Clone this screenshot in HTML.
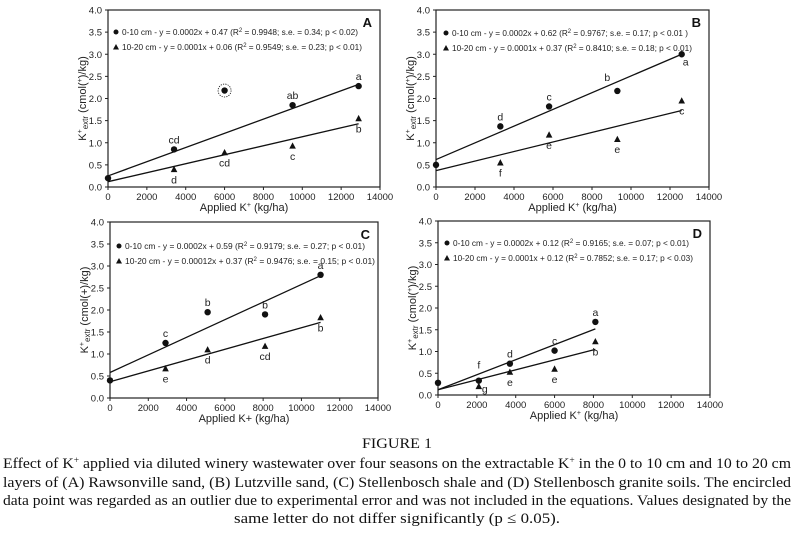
<!DOCTYPE html>
<html><head><meta charset="utf-8">
<style>
html,body{margin:0;padding:0;background:#fff;}
svg{display:block;}
.tk{font-family:"Liberation Sans",Arial,sans-serif;font-size:9.5px;fill:#222;}
.ax{font-family:"Liberation Sans",Arial,sans-serif;font-size:11px;fill:#222;}
.lg{font-family:"Liberation Sans",Arial,sans-serif;font-size:8.3px;fill:#222;}
.lt{font-family:"Liberation Sans",Arial,sans-serif;font-size:10.5px;fill:#222;}
.pl{font-family:"Liberation Sans",Arial,sans-serif;font-size:13px;font-weight:bold;fill:#111;}
.cap{font-family:"Liberation Serif","Times New Roman",serif;font-size:15px;fill:#111;}
</style></head>
<body>
<svg id="fig" width="794" height="536" viewBox="0 0 794 536" xmlns="http://www.w3.org/2000/svg">
<g id="charts"></g>
<text class="cap" x="397" y="448" text-anchor="middle" textLength="70" lengthAdjust="spacingAndGlyphs">FIGURE 1</text>
<text class="cap" x="3" y="468" textLength="788" lengthAdjust="spacingAndGlyphs">Effect of K<tspan dy="-5" font-size="9">+</tspan><tspan dy="5"> applied via diluted winery wastewater over four seasons on the extractable K</tspan><tspan dy="-5" font-size="9">+</tspan><tspan dy="5"> in the 0 to 10 cm and 10 to 20 cm</tspan></text>
<text class="cap" x="3" y="487" textLength="788" lengthAdjust="spacingAndGlyphs">layers of (A) Rawsonville sand, (B) Lutzville sand, (C) Stellenbosch shale and (D) Stellenbosch granite soils. The encircled</text>
<text class="cap" x="3" y="505" textLength="788" lengthAdjust="spacingAndGlyphs">data point was regarded as an outlier due to experimental error and was not included in the equations. Values designated by the</text>
<text class="cap" x="397" y="523" text-anchor="middle" textLength="326" lengthAdjust="spacingAndGlyphs">same letter do not differ significantly (p ≤ 0.05).</text>
</svg>
<script>
// ---- data ----
const xTicks = [0,2000,4000,6000,8000,10000,12000,14000];
const yTicks = ["0.0","0.5","1.0","1.5","2.0","2.5","3.0","3.5","4.0"];
// Panel A
const aX1 = [0,3400,9500,12900];   const aY1 = [0.2,0.85,1.85,2.28];  const aL1 = ["","cd","ab","a"];
const aX2 = [3400,6000,9500,12900];const aY2 = [0.4,0.78,0.93,1.55]; const aL2 = ["d","cd","c","b"];
const aLine1 = [0.25,2.32]; const aLine2 = [0.12,1.43]; const aLineX = [0,12900];
const aOutlierX = [6000]; const aOutlierY = [2.18];
// Panel B
const bX1 = [0,3300,5800,9300,12600]; const bY1 = [0.5,1.37,1.82,2.17,3.0]; const bL1 = ["","d","c","b","a"];
const bX2 = [3300,5800,9300,12600];   const bY2 = [0.55,1.18,1.08,1.95];    const bL2 = ["f","e","e","c"];
const bLine1 = [0.62,3.0]; const bLine2 = [0.37,1.73]; const bLineX = [0,12600];
// Panel C
const cX1 = [0,2900,5100,8100,11000]; const cY1 = [0.4,1.25,1.95,1.9,2.8]; const cL1 = ["","c","b","b","a"];
const cX2 = [2900,5100,8100,11000];   const cY2 = [0.67,1.1,1.18,1.83];   const cL2 = ["e","d","cd","b"];
const cLine1 = [0.58,2.78]; const cLine2 = [0.37,1.72]; const cLineX = [0,11000];
// Panel D
const dX1 = [0,2100,3700,6000,8100]; const dY1 = [0.28,0.33,0.72,1.02,1.68]; const dL1 = ["","f","d","c","a"];
const dX2 = [2100,3700,6000,8100];   const dY2 = [0.2,0.53,0.6,1.23];       const dL2 = ["g","e","e","b"];
const dLine1 = [0.12,1.52]; const dLine2 = [0.12,1.05]; const dLineX = [0,8100];

const NS = "http://www.w3.org/2000/svg";
const root = document.getElementById('charts');
function mk(tag, attrs, parent, text){
  const e = document.createElementNS(NS, tag);
  for (const k in attrs) e.setAttribute(k, attrs[k]);
  if (text !== undefined) e.textContent = text;
  parent.appendChild(e); return e;
}

function panel(cfg){
  const g = mk('g', {}, root);
  
  
  const L=cfg.l, R=cfg.r, T=cfg.t, B=cfg.b;
  const sx = v => L + v/14000*(R-L);
  const sy = v => B - v/4*(B-T);
  const box = mk('rect', {x:L,y:T,width:R-L,height:B-T,fill:'none',stroke:'#222','stroke-width':1.2}, g);
  
  
  xTicks.forEach(t => {
    mk('line',{x1:sx(t),x2:sx(t),y1:B,y2:B+3,stroke:'#222'},g);
    const tx = mk('text',{class:'tk',x:sx(t),y:B+13,'text-anchor':'middle'},g,String(t));
    
    
  });
  yTicks.forEach(t => {
    const v = parseFloat(t);
    mk('line',{x1:L-3,x2:L,y1:sy(v),y2:sy(v),stroke:'#222'},g);
    const ty = mk('text',{class:'tk',x:L-6,y:sy(v)+3.5,'text-anchor':'end'},g,t);
    
    
  });
  const xt = mk('text',{class:'ax',x:(L+R)/2,y:B+24,'text-anchor':'middle'},g);
  
  
  xt.innerHTML = cfg.xTitle;
  const yt = mk('text',{class:'ax',transform:`translate(${L-22},${(T+B)/2}) rotate(-90)`,'text-anchor':'middle'},g);
  
  
  yt.innerHTML = cfg.yTitle;
  const pl = mk('text',{class:'pl',x:R-8,y:T+17,'text-anchor':'end'},g,cfg.id);
  
  
  // legend
  const lg1 = mk('g',{},g);
  
  
  mk('circle',{cx:L+cfg.lgx,cy:T+cfg.lgy,r:2.5,fill:'#111'},lg1);
  const t1 = mk('text',{class:'lg',x:L+cfg.lgx+6,y:T+cfg.lgy+3,textLength:cfg.lgw1,lengthAdjust:'spacingAndGlyphs'},lg1);
  t1.innerHTML = cfg.leg1;
  const lg2 = mk('g',{},g);
  
  
  const ty2 = T+cfg.lgy+cfg.lgdy, tx2 = L+cfg.lgx;
  mk('polygon',{points:`${tx2-3},${ty2+2.5} ${tx2+3},${ty2+2.5} ${tx2},${ty2-3}`,fill:'#111'},lg2);
  const t2 = mk('text',{class:'lg',x:tx2+6,y:ty2+3,textLength:cfg.lgw2,lengthAdjust:'spacingAndGlyphs'},lg2);
  t2.innerHTML = cfg.leg2;
  // regression lines
  const r1 = mk('line',{x1:sx(cfg.lx[0]),y1:sy(cfg.ln1[0]),x2:sx(cfg.lx[1]),y2:sy(cfg.ln1[1]),stroke:'#111','stroke-width':1.3},g);
  
  
  const r2 = mk('line',{x1:sx(cfg.lx[0]),y1:sy(cfg.ln2[0]),x2:sx(cfg.lx[1]),y2:sy(cfg.ln2[1]),stroke:'#111','stroke-width':1.3},g);
  
  
  // points
  cfg.x1.forEach((x,i)=>{
    const c = mk('circle',{cx:sx(x),cy:sy(cfg.y1[i]),r:3.2,fill:'#111'},g);
    
    
    if (cfg.l1[i]) {
      const lt = mk('text',{class:'lt',x:sx(x)+(cfg.d1x?cfg.d1x[i]:0),y:sy(cfg.y1[i])+(cfg.d1y?cfg.d1y[i]:-6),'text-anchor':'middle'},g,cfg.l1[i]);
      
      
    }
  });
  cfg.x2.forEach((x,i)=>{
    const px=sx(x), py=sy(cfg.y2[i]);
    const p = mk('polygon',{points:`${px-3.3},${py+2.8} ${px+3.3},${py+2.8} ${px},${py-3.5}`,fill:'#111'},g);
    
    
    if (cfg.l2[i]) {
      const lt = mk('text',{class:'lt',x:px+(cfg.d2x?cfg.d2x[i]:0),y:py+(cfg.d2y?cfg.d2y[i]:14),'text-anchor':'middle'},g,cfg.l2[i]);
      
      
    }
  });
  if (cfg.ox) cfg.ox.forEach((x,i)=>{
    const o = mk('g',{},g);
    
    
    mk('circle',{cx:sx(x),cy:sy(cfg.oy[i]),r:3.2,fill:'#111'},o);
    mk('circle',{cx:sx(x),cy:sy(cfg.oy[i]),r:6.5,fill:'none',stroke:'#111','stroke-width':0.8,'stroke-dasharray':'1.2,1.2'},o);
  });
}
const ytA = 'K<tspan dy="-4" font-size="7">+</tspan><tspan dy="6" font-size="8">extr</tspan><tspan dy="-2"> (cmol(</tspan><tspan dy="-4" font-size="7">+</tspan><tspan dy="4">)/kg)</tspan>';
const ytC = 'K<tspan dy="-4" font-size="7">+</tspan><tspan dy="6" font-size="8">extr</tspan><tspan dy="-2"> (cmol(+)/kg)</tspan>';
const xtK = 'Applied K<tspan dy="-4" font-size="7">+</tspan><tspan dy="4"> (kg/ha)</tspan>';
const sup2 = '<tspan dy="-3" font-size="6">2</tspan><tspan dy="3">';

panel({id:'A',l:108,r:380,t:10,b:187,xTitle:xtK,yTitle:ytA,lgx:8,lgy:22,lgdy:15,lgw1:236,lgw2:240,
  leg1:'0-10 cm - y = 0.0002x + 0.47 (R'+sup2+' = 0.9948; s.e. = 0.34; p &lt; 0.02)</tspan>',
  leg2:'10-20 cm - y = 0.0001x + 0.06 (R'+sup2+' = 0.9549; s.e. = 0.23; p &lt; 0.01)</tspan>',
  x1:aX1,y1:aY1,l1:aL1,x2:aX2,y2:aY2,l2:aL2,lx:aLineX,ln1:aLine1,ln2:aLine2,ox:aOutlierX,oy:aOutlierY});
panel({id:'B',l:436,r:709,t:10,b:187,xTitle:xtK,yTitle:ytA,lgx:10,lgy:23,lgdy:15,lgw1:236,lgw2:240,
  leg1:'0-10 cm - y = 0.0002x + 0.62 (R'+sup2+' = 0.9767; s.e. = 0.17; p &lt; 0.01 )</tspan>',
  leg2:'10-20 cm - y = 0.0001x + 0.37 (R'+sup2+' = 0.8410; s.e. = 0.18; p &lt; 0.01)</tspan>',
  x1:bX1,y1:bY1,l1:bL1,d1x:[0,0,0,-10,4],d1y:[-6,-6,-6,-10,11],x2:bX2,y2:bY2,l2:bL2,lx:bLineX,ln1:bLine1,ln2:bLine2});
panel({id:'C',l:110,r:378,t:222,b:398,xTitle:xtK.replace('<tspan dy="-4" font-size="7">+</tspan><tspan dy="4">','+<tspan>'),yTitle:ytC,lgx:9,lgy:24,lgdy:15,lgw1:240,lgw2:250,
  leg1:'0-10 cm - y = 0.0002x + 0.59 (R'+sup2+' = 0.9179; s.e. = 0.27; p &lt; 0.01)</tspan>',
  leg2:'10-20 cm - y = 0.00012x + 0.37 (R'+sup2+' = 0.9476; s.e. = 0.15; p &lt; 0.01)</tspan>',
  x1:cX1,y1:cY1,l1:cL1,x2:cX2,y2:cY2,l2:cL2,lx:cLineX,ln1:cLine1,ln2:cLine2});
panel({id:'D',l:438,r:710,t:221,b:395,xTitle:xtK,yTitle:ytA,lgx:9,lgy:22,lgdy:15,lgw1:236,lgw2:240,
  leg1:'0-10 cm - y = 0.0002x + 0.12 (R'+sup2+' = 0.9165; s.e. = 0.07; p &lt; 0.01)</tspan>',
  leg2:'10-20 cm - y = 0.0001x + 0.12 (R'+sup2+' = 0.7852; s.e. = 0.17; p &lt; 0.03)</tspan>',
  x1:dX1,y1:dY1,l1:dL1,d1y:[-6,-12,-6,-6,-6],x2:dX2,y2:dY2,l2:dL2,d2x:[6,0,0,0],d2y:[6,14,14,14],lx:dLineX,ln1:dLine1,ln2:dLine2});
</script>
</body></html>
